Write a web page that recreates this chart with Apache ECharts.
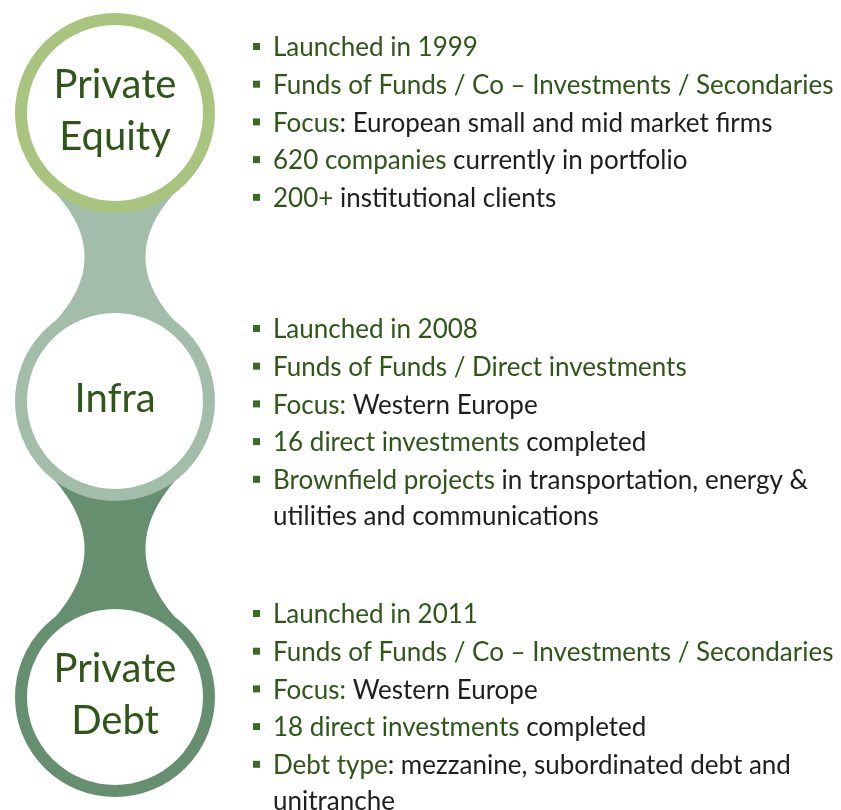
<!DOCTYPE html>
<html>
<head>
<meta charset="utf-8">
<title>Private markets overview</title>
<script src="https://cdn.jsdelivr.net/npm/echarts@6/dist/echarts.min.js"></script>
<style>
  html, body { margin: 0; padding: 0; background: #fff; }
  #chart { width: 841px; height: 810px; }
</style>
</head>
<body>
<div id="chart"></div>
<script>
// Segment names shown inside the rings
const segmentNames = ['Private\nEquity', 'Infra', 'Private\nDebt'];
const ringColors = ['#a9c47f', '#a3bdab', '#668f70'];

// Bullets: each item is a list of [text, highlighted] parts
const equityBullets = [
  [['Launched in 1999', true]],
  [['Funds of Funds / Co \u2013 Investments / Secondaries', true]],
  [['Focus', true], [': European small and mid market firms', false]],
  [['620 companies', true], [' currently in portfolio', false]],
  [['200+', true], [' institutional clients', false]]
];
const infraBullets = [
  [['Launched in 2008', true]],
  [['Funds of Funds / Direct investments', true]],
  [['Focus:', true], [' Western Europe', false]],
  [['16 direct investments', true], [' completed', false]],
  [['Brownfield projects', true], [' in transportation, energy &\nutilities and communications', false]]
];
const debtBullets = [
  [['Launched in 2011', true]],
  [['Funds of Funds / Co \u2013 Investments / Secondaries', true]],
  [['Focus:', true], [' Western Europe', false]],
  [['18 direct investments', true], [' completed', false]],
  [['Debt type', true], [': mezzanine, subordinated debt and\nunitranche', false]]
];
const bulletGroups = [equityBullets, infraBullets, debtBullets];

// layout
const FONT = 'Lato, "Open Sans", sans-serif';
const GREEN_TEXT = '#2f5519';
const BODY_TEXT = '#1e1e1e';
const cx = 115;
const ringCenters = [113, 401, 697];
const ringR = 94;          // stroke centre radius
const ringWidth = 12;
const groupTops = [48, 330, 615];
const rowStep = 37.7;
const lineH = 36;
const bulletSize = 26;

const chart = echarts.init(document.getElementById('chart'), null, { renderer: 'canvas' });

function connectorPoints(yA, yB) {
  // waist between two rings: sides flare out as a parabola from the neck
  // until they meet the ring's outer edge
  const ym = (yA + yB) / 2;
  const neck = 30.5, attachDx = 63;
  const outer = ringR + ringWidth / 2 - 1;
  const attachDy = Math.sqrt(outer * outer - attachDx * attachDx);
  const dAttach = (yB - yA) / 2 - attachDy;
  const flare = (attachDx - neck) / (dAttach * dAttach);
  const upper = [];
  for (let i = 0; i <= 40; i++) {
    const d = dAttach * i / 40;
    upper.push([cx - neck - flare * d * d, ym - d]);
  }
  upper.reverse();
  const lower = upper.slice(0, -1).reverse().map(([x, y]) => [x, 2 * ym - y]);
  const leftSide = upper.concat(lower);
  const rightSide = leftSide.map(([x, y]) => [2 * cx - x, y]).reverse();
  return [[cx, yA]].concat(leftSide, [[cx, yB]], rightSide);
}

const elements = [];

// connectors between consecutive rings, coloured like the lower ring
for (let i = 0; i < ringCenters.length - 1; i++) {
  elements.push({
    type: 'polygon',
    z: 1,
    shape: { points: connectorPoints(ringCenters[i], ringCenters[i + 1]) },
    style: { fill: ringColors[i + 1] }
  });
}

// rings with labels
ringCenters.forEach((cy, i) => {
  elements.push({
    type: 'circle',
    z: 10,
    shape: { cx: cx, cy: cy, r: ringR },
    style: { fill: '#fff', stroke: ringColors[i], lineWidth: ringWidth }
  });
  elements.push({
    type: 'text',
    z: 11,
    style: {
      x: cx, y: cy - 2,
      text: segmentNames[i],
      fill: GREEN_TEXT,
      font: '40px ' + FONT,
      lineHeight: 52,
      align: 'center',
      verticalAlign: 'middle'
    }
  });
});

// bullet lists
const rich = {
  g: { fill: GREEN_TEXT, fontSize: bulletSize, fontFamily: FONT, lineHeight: lineH },
  k: { fill: BODY_TEXT, fontSize: bulletSize, fontFamily: FONT, lineHeight: lineH }
};
bulletGroups.forEach((group, gi) => {
  group.forEach((parts, ri) => {
    const cy = groupTops[gi] + ri * rowStep;
    elements.push({
      type: 'rect',
      z: 11,
      shape: { x: 253, y: cy - 5, width: 7, height: 7 },
      style: { fill: '#3a6b22' }
    });
    const txt = parts.map(([t, hi]) =>
      t.split('\n').map(s => '{' + (hi ? 'g' : 'k') + '|' + s + '}').join('\n')
    ).join('');
    elements.push({
      type: 'text',
      z: 11,
      style: {
        x: 273, y: cy - lineH / 2,
        text: txt,
        rich: rich,
        font: bulletSize + 'px ' + FONT,
        lineHeight: lineH,
        align: 'left',
        verticalAlign: 'top'
      }
    });
  });
});

chart.setOption({
  backgroundColor: '#ffffff',
  animation: false,
  graphic: { elements: elements }
});
</script>
</body>
</html>
